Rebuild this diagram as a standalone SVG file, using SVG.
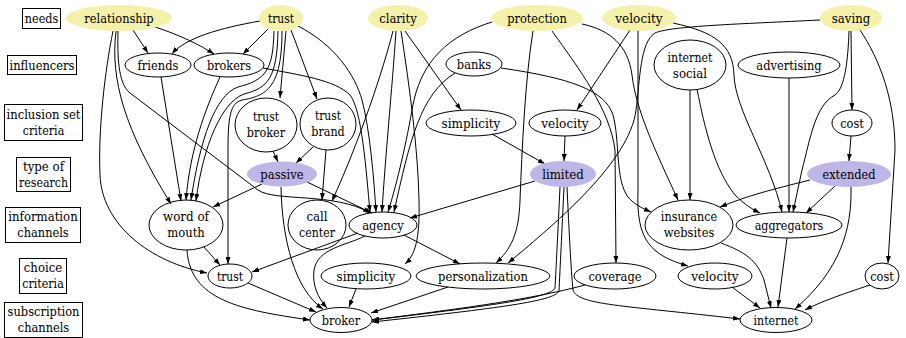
<svg xmlns="http://www.w3.org/2000/svg" width="906" height="338" viewBox="0 0 906 338" font-family="'DejaVu Serif', serif">
<defs>
<marker id="a" viewBox="0 0 10 10" refX="10" refY="5" markerWidth="7" markerHeight="5" orient="auto" markerUnits="userSpaceOnUse" preserveAspectRatio="none"><path d="M0,0L10,5L0,10z" fill="#000"/></marker>
<style>
text{font-family:'DejaVu Serif',serif;font-size:13.5px;text-anchor:middle;fill:#000}
.b{fill:none;stroke:#000;stroke-width:1}
.n{fill:none;stroke:#000;stroke-width:1}
.y{fill:#f5f0aa;stroke:none}
.p{fill:#bdb6e6;stroke:none}
#edges path{fill:none;stroke:#000;stroke-width:1;marker-end:url(#a)}
</style>
</defs>
<rect width="906" height="338" fill="#fff"/>
<g id="rows">
<g id="r_needs"><rect class="b" x="22.5" y="8.5" width="38" height="20"/><text x="41.5" y="23" textLength="33.5" lengthAdjust="spacingAndGlyphs">needs</text></g>
<g id="r_infl"><rect class="b" x="7.5" y="55.5" width="69" height="19"/><text x="42" y="69.5" textLength="65" lengthAdjust="spacingAndGlyphs">influencers</text></g>
<g id="r_incl"><rect class="b" x="4.5" y="104.5" width="78" height="36"/><text x="43.5" y="119" textLength="74" lengthAdjust="spacingAndGlyphs">inclusion set</text><text x="43.5" y="135" textLength="41.6" lengthAdjust="spacingAndGlyphs">criteria</text></g>
<g id="r_type"><rect class="b" x="16.5" y="157.5" width="54" height="34"/><text x="43.5" y="171" textLength="41.2" lengthAdjust="spacingAndGlyphs">type of</text><text x="43.5" y="187" textLength="49" lengthAdjust="spacingAndGlyphs">research</text></g>
<g id="r_info"><rect class="b" x="5.5" y="207.5" width="75" height="35"/><text x="43" y="221" textLength="69.4" lengthAdjust="spacingAndGlyphs">information</text><text x="43" y="237" textLength="51.4" lengthAdjust="spacingAndGlyphs">channels</text></g>
<g id="r_choice"><rect class="b" x="19.5" y="258.5" width="47" height="35"/><text x="43" y="272" textLength="38.4" lengthAdjust="spacingAndGlyphs">choice</text><text x="43" y="288" textLength="41.6" lengthAdjust="spacingAndGlyphs">criteria</text></g>
<g id="r_sub"><rect class="b" x="4.5" y="302.5" width="78" height="35"/><text x="43.5" y="316" textLength="71.9" lengthAdjust="spacingAndGlyphs">subscription</text><text x="43.5" y="332" textLength="51.4" lengthAdjust="spacingAndGlyphs">channels</text></g>
</g>
<g id="edges">
<path d="M133,30 L148,53"/>
<path d="M155,27 C180,35 200,45 214,54"/>
<path d="M113,31 C105,70 98,130 100,175 C102,225 150,262 207,273"/>
<path d="M116,31 C110,80 125,130 171,204"/>
<path d="M118,31 C117,65 120,85 130,93 L258,190 C275,202 335,192 370,213"/>
<path d="M260,21 C220,28 185,38 172,54"/>
<path d="M268,29 L243,54"/>
<path d="M286,31 L280,98"/>
<path d="M291,30 L317,99"/>
<path d="M274,31 C273,70 266,80 238,87 C215,95 200,140 191,200"/>
<path d="M278,31 C277,78 268,88 244,94 C222,102 203,145 196,201"/>
<path d="M282,31 C282,88 266,96 242,100 C230,103 228,118 228,150 L228,264"/>
<path d="M298,26 C335,45 355,75 362,100 C370,130 374,180 376,212"/>
<path d="M220,77 C205,110 190,150 186,200"/>
<path d="M263,68 C300,75 335,80 350,95 C362,110 366,170 370,212"/>
<path d="M161,77 L181,201"/>
<path d="M273,151 L278,162"/>
<path d="M313,147 L296,163"/>
<path d="M326,150 L322,200"/>
<path d="M262,184 L213,207"/>
<path d="M307,182 L372,213"/>
<path d="M281,187 C282,240 295,290 323,309"/>
<path d="M187,250 C190,300 240,310 310,320"/>
<path d="M204,247 L220,265"/>
<path d="M248,283 L316,312"/>
<path d="M365,236 C345,246 318,248 314,270 C312,285 318,298 327,308"/>
<path d="M358,233 C320,247 290,258 252,272"/>
<path d="M405,31 L461,110"/>
<path d="M393,31 C383,70 360,140 332,201"/>
<path d="M396,31 C392,90 385,160 382,212"/>
<path d="M401,31 C410,90 418,150 419,200 C420,240 415,255 405,264"/>
<path d="M492,22 C450,35 420,60 412,110 C405,150 395,190 388,212"/>
<path d="M455,73 C420,95 410,140 394,212"/>
<path d="M501,68 C570,78 605,90 613,115 C620,140 615,180 628,197 C635,205 642,208 651,212"/>
<path d="M552,31 C580,70 610,110 615,150 L616,263"/>
<path d="M533,31 C525,80 522,150 520,200 C519,235 510,250 496,263"/>
<path d="M582,24 C610,30 628,45 632,75 C636,110 655,150 678,200"/>
<path d="M630,30 L577,110"/>
<path d="M638,31 L638,190 C636,240 650,255 688,266"/>
<path d="M673,23 C715,32 733,45 734,75 C735,110 770,160 782,212"/>
<path d="M820,20 C740,24 670,26 655,33 C640,42 640,80 636,110 C630,160 560,220 508,263"/>
<path d="M851,31 L852,110"/>
<path d="M849,31 C848,60 845,88 835,95 C815,105 810,140 802,170 L793,212"/>
<path d="M860,30 C880,60 895,100 895,150 L888,263"/>
<path d="M851,136 L849,161"/>
<path d="M789,78 L789,212"/>
<path d="M690,90 L690,200"/>
<path d="M697,89 C705,130 715,170 735,195 C745,205 752,209 760,213"/>
<path d="M565,136 L564,161"/>
<path d="M492,134 L545,164"/>
<path d="M535,181 L410,218"/>
<path d="M560,187 C558,230 556,270 555,288 C552,297 500,305 372,320"/>
<path d="M564,187 C562,230 560,270 559,291 C555,301 500,308 372,322"/>
<path d="M567,187 C569,230 571,270 573,290 C578,305 620,305 740,319"/>
<path d="M810,180 C770,190 750,195 720,207"/>
<path d="M835,186 L806,213"/>
<path d="M851,187 C852,230 840,270 795,309"/>
<path d="M721,243 C745,252 757,260 764,280 L771,308"/>
<path d="M787,238 L778,307"/>
<path d="M732,287 L760,308"/>
<path d="M870,285 C840,295 820,302 805,310"/>
<path d="M585,285 C530,300 450,310 372,320"/>
<path d="M356,289 L349,307"/>
<path d="M448,287 L371,313"/>
<path d="M404,235 L460,264"/>
</g>
<g id="nodes">
<g id="relationship"><ellipse class="y" cx="119" cy="18" rx="53" ry="13"/><text x="119" y="23" textLength="69.4" lengthAdjust="spacingAndGlyphs">relationship</text></g>
<g id="trust_need"><ellipse class="y" cx="281" cy="18" rx="22" ry="13"/><text x="281" y="23" textLength="26.1" lengthAdjust="spacingAndGlyphs">trust</text></g>
<g id="clarity"><ellipse class="y" cx="398" cy="18" rx="30" ry="13"/><text x="398" y="23" textLength="37.6" lengthAdjust="spacingAndGlyphs">clarity</text></g>
<g id="protection"><ellipse class="y" cx="537" cy="18" rx="46" ry="13"/><text x="537" y="23" textLength="59.6" lengthAdjust="spacingAndGlyphs">protection</text></g>
<g id="velocity_need"><ellipse class="y" cx="639" cy="18" rx="37" ry="13"/><text x="639" y="23" textLength="47.4" lengthAdjust="spacingAndGlyphs">velocity</text></g>
<g id="saving"><ellipse class="y" cx="851" cy="18" rx="31" ry="13"/><text x="851" y="23" textLength="38.4" lengthAdjust="spacingAndGlyphs">saving</text></g>
<g id="friends"><ellipse class="n" cx="158" cy="65" rx="33" ry="12"/><text x="158" y="70" textLength="40.8" lengthAdjust="spacingAndGlyphs">friends</text></g>
<g id="brokers"><ellipse class="n" cx="229" cy="65" rx="35" ry="12"/><text x="229" y="70" textLength="44.1" lengthAdjust="spacingAndGlyphs">brokers</text></g>
<g id="banks"><ellipse class="n" cx="474" cy="64" rx="28" ry="12"/><text x="474" y="69" textLength="34.3" lengthAdjust="spacingAndGlyphs">banks</text></g>
<g id="internet_social"><ellipse class="n" cx="690" cy="65" rx="36" ry="25"/><text x="690" y="62" textLength="44.9" lengthAdjust="spacingAndGlyphs">internet</text><text x="690" y="78" textLength="34.3" lengthAdjust="spacingAndGlyphs">social</text></g>
<g id="advertising"><ellipse class="n" cx="789" cy="65" rx="51" ry="13"/><text x="789" y="70" textLength="65.3" lengthAdjust="spacingAndGlyphs">advertising</text></g>
<g id="trust_broker"><ellipse class="n" cx="266" cy="125" rx="31" ry="27"/><text x="266" y="121" textLength="26.1" lengthAdjust="spacingAndGlyphs">trust</text><text x="266" y="137" textLength="38.4" lengthAdjust="spacingAndGlyphs">broker</text></g>
<g id="trust_brand"><ellipse class="n" cx="328" cy="124" rx="28" ry="26"/><text x="328" y="120" textLength="26.1" lengthAdjust="spacingAndGlyphs">trust</text><text x="328" y="136" textLength="33.5" lengthAdjust="spacingAndGlyphs">brand</text></g>
<g id="simplicity_incl"><ellipse class="n" cx="471" cy="123" rx="45" ry="13"/><text x="471" y="128" textLength="58.8" lengthAdjust="spacingAndGlyphs">simplicity</text></g>
<g id="velocity_incl"><ellipse class="n" cx="565" cy="123" rx="36" ry="13"/><text x="565" y="128" textLength="47.4" lengthAdjust="spacingAndGlyphs">velocity</text></g>
<g id="cost_incl"><ellipse class="n" cx="852" cy="123" rx="20" ry="13"/><text x="852" y="128" textLength="23.7" lengthAdjust="spacingAndGlyphs">cost</text></g>
<g id="passive"><ellipse class="p" cx="282" cy="174" rx="35" ry="12.5"/><text x="282" y="179" textLength="43.3" lengthAdjust="spacingAndGlyphs">passive</text></g>
<g id="limited"><ellipse class="p" cx="563" cy="174" rx="33" ry="13"/><text x="563" y="179" textLength="41.7" lengthAdjust="spacingAndGlyphs">limited</text></g>
<g id="extended"><ellipse class="p" cx="849" cy="174" rx="42" ry="13"/><text x="849" y="179" textLength="53.1" lengthAdjust="spacingAndGlyphs">extended</text></g>
<g id="word_of_mouth"><ellipse class="n" cx="186" cy="225" rx="37" ry="25"/><text x="186" y="221" textLength="46.1" lengthAdjust="spacingAndGlyphs">word of</text><text x="186" y="237" textLength="37.6" lengthAdjust="spacingAndGlyphs">mouth</text></g>
<g id="call_center"><ellipse class="n" cx="317" cy="225" rx="29" ry="25"/><text x="317" y="221" textLength="21.2" lengthAdjust="spacingAndGlyphs">call</text><text x="317" y="237" textLength="35.9" lengthAdjust="spacingAndGlyphs">center</text></g>
<g id="agency"><ellipse class="n" cx="383" cy="225" rx="34" ry="13"/><text x="383" y="230" textLength="41.6" lengthAdjust="spacingAndGlyphs">agency</text></g>
<g id="insurance_websites"><ellipse class="n" cx="689" cy="225" rx="44" ry="25"/><text x="689" y="221" textLength="56.3" lengthAdjust="spacingAndGlyphs">insurance</text><text x="689" y="237" textLength="50.6" lengthAdjust="spacingAndGlyphs">websites</text></g>
<g id="aggregators"><ellipse class="n" cx="789" cy="225" rx="53" ry="13"/><text x="789" y="230" textLength="68.6" lengthAdjust="spacingAndGlyphs">aggregators</text></g>
<g id="trust_choice"><ellipse class="n" cx="230" cy="276" rx="22" ry="12"/><text x="230" y="281" textLength="26.1" lengthAdjust="spacingAndGlyphs">trust</text></g>
<g id="simplicity_choice"><ellipse class="n" cx="366" cy="276" rx="45" ry="13"/><text x="366" y="281" textLength="58.8" lengthAdjust="spacingAndGlyphs">simplicity</text></g>
<g id="personalization"><ellipse class="n" cx="483" cy="276" rx="67" ry="13"/><text x="483" y="281" textLength="89.8" lengthAdjust="spacingAndGlyphs">personalization</text></g>
<g id="coverage"><ellipse class="n" cx="615" cy="276" rx="41" ry="13"/><text x="615" y="281" textLength="53.1" lengthAdjust="spacingAndGlyphs">coverage</text></g>
<g id="velocity_choice"><ellipse class="n" cx="715" cy="276" rx="37" ry="13"/><text x="715" y="281" textLength="47.4" lengthAdjust="spacingAndGlyphs">velocity</text></g>
<g id="cost_choice"><ellipse class="n" cx="882" cy="276" rx="17" ry="13"/><text x="882" y="281" textLength="23.7" lengthAdjust="spacingAndGlyphs">cost</text></g>
<g id="broker"><ellipse class="n" cx="341" cy="320" rx="31" ry="12.5"/><text x="341" y="325" textLength="38.4" lengthAdjust="spacingAndGlyphs">broker</text></g>
<g id="internet"><ellipse class="n" cx="776" cy="320" rx="36" ry="12.5"/><text x="776" y="325" textLength="44.9" lengthAdjust="spacingAndGlyphs">internet</text></g>
</g>
</svg>
